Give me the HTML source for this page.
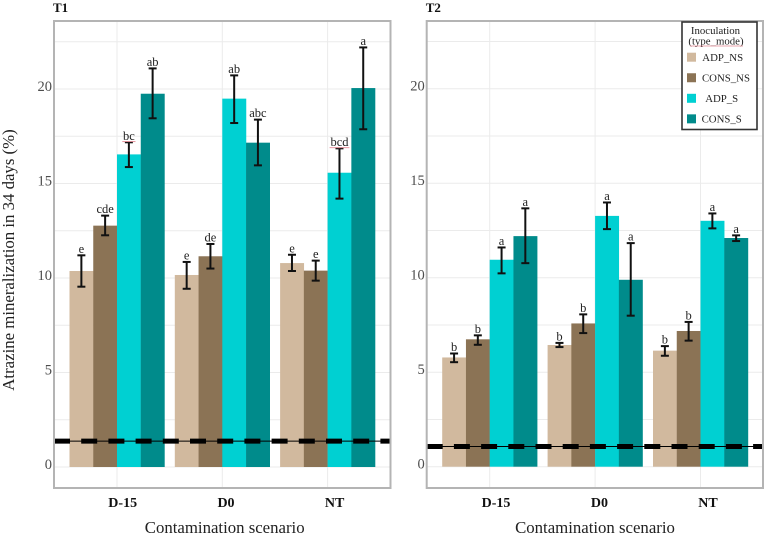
<!DOCTYPE html>
<html lang="en">
<head>
<meta charset="utf-8">
<title>Atrazine mineralization chart</title>
<style>
html,body{margin:0;padding:0;background:#fff;}
svg{display:block;font-family:"Liberation Serif",serif;filter:blur(0.3px);}
</style>
</head>
<body>
<svg id="chart" xmlns="http://www.w3.org/2000/svg" width="766" height="535" viewBox="0 0 766 535"></svg>
<script>
const categories = ['D-15', 'D0', 'NT'];
const seriesNames = ['ADP_NS', 'CONS_NS', 'ADP_S', 'CONS_S'];
const yTicks = [0, 5, 10, 15, 20];
const yMinorTicks = [2.5, 7.5, 12.5, 17.5, 22.5];

const t1Means = [[10.37, 12.77, 16.54, 19.75], [10.16, 11.15, 19.49, 17.16], [10.79, 10.39, 15.57, 20.05]];
const t1Upper = [[11.2, 13.3, 17.18, 21.09], [10.85, 11.8, 20.72, 18.38], [11.23, 10.92, 16.86, 22.2]];
const t1Lower = [[9.54, 12.26, 15.87, 18.45], [9.43, 10.5, 18.2, 15.96], [10.37, 9.86, 14.2, 17.87]];
const t1Letters = [['e', 'cde', 'bc', 'ab'], ['e', 'de', 'ab', 'abc'], ['e', 'e', 'bcd', 'a']];
const t1Baseline = 1.37;

const t2Means = [[5.78, 6.74, 10.95, 12.2], [6.44, 7.58, 13.27, 9.89], [6.14, 7.18, 13.01, 12.1]];
const t2Upper = [[5.99, 6.95, 11.6, 13.67], [6.55, 8.06, 13.98, 11.83], [6.38, 7.66, 13.4, 12.24]];
const t2Lower = [[5.53, 6.45, 10.23, 10.77], [6.33, 7.07, 12.57, 7.99], [5.87, 6.67, 12.61, 11.94]];
const t2Letters = [['b', 'b', 'a', 'a'], ['b', 'b', 'a', 'a'], ['b', 'b', 'a', 'a']];
const t2Baseline = 1.07;

const seriesColors = ['#d1b99e', '#8b7355', '#00d0d2', '#008b8b'];
const NS = 'http://www.w3.org/2000/svg';
const root = document.getElementById('chart');

function mark(parent, tag, attrs, name, text) {
  const el = document.createElementNS(NS, tag);
  for (const k in attrs) el.setAttribute(k, attrs[k]);
  
  
  if (text !== undefined) el.textContent = text;
  parent.appendChild(el);
  return el;
}

function drawPanel(cfg) {
  const g = mark(root, 'g', {}, cfg.id + '-panel');
  const y = v => cfg.zeroY - v * cfg.unit;
  const groupX = i => cfg.firstCenter + i * cfg.step;
  const x = (i, s) => groupX(i) + (s - seriesNames.length / 2) * cfg.barW;

  yMinorTicks.concat(yTicks).forEach(t => {
    mark(g, 'line', {x1: cfg.left, x2: cfg.right, y1: y(t), y2: y(t), stroke: '#ebebeb', 'stroke-width': 1}, 'gridline-y-' + t);
  });
  categories.forEach((c, i) => {
    mark(g, 'line', {x1: groupX(i), x2: groupX(i), y1: cfg.top, y2: cfg.bottom, stroke: '#ebebeb', 'stroke-width': 1}, 'gridline-x-' + c);
  });

  categories.forEach((c, i) => {
    seriesNames.forEach((s, j) => {
      mark(g, 'rect', {x: x(i, j), y: y(cfg.means[i][j]), width: cfg.barW + 0.2, height: y(0) - y(cfg.means[i][j]), fill: seriesColors[j]}, 'bar-' + c + '-' + s);
    });
  });

  mark(g, 'line', {x1: cfg.left, x2: cfg.right, y1: y(cfg.baseline), y2: y(cfg.baseline), stroke: '#000', 'stroke-width': 1}, 'baseline-thin-line');
  mark(g, 'line', {x1: cfg.left, x2: cfg.right, y1: y(cfg.baseline), y2: y(cfg.baseline), stroke: '#000', 'stroke-width': 5, 'stroke-dasharray': '16 11.2', 'stroke-dashoffset': 0}, 'baseline-dashed-line');

  categories.forEach((c, i) => {
    seriesNames.forEach((s, j) => {
      const cx = x(i, j) + cfg.barW / 2;
      const hi = y(cfg.upper[i][j]);
      const lo = y(cfg.lower[i][j]);
      const eb = mark(g, 'g', {stroke: '#111', 'stroke-width': 2, fill: 'none'}, 'error-bar-' + c + '-' + s);
      mark(eb, 'line', {x1: cx, x2: cx, y1: hi, y2: lo}, 'error-stem');
      mark(eb, 'line', {x1: cx - 4, x2: cx + 4, y1: hi, y2: hi}, 'error-cap-upper');
      mark(eb, 'line', {x1: cx - 4, x2: cx + 4, y1: lo, y2: lo}, 'error-cap-lower');
      const letter = cfg.letters[i][j];
      mark(g, 'text', {x: cx, y: hi - 2.5, 'text-anchor': 'middle', 'font-size': 12.5, fill: '#222'}, 'significance-label-' + c + '-' + s, letter);
      if (letter === 'bc' || letter === 'bcd') {
        const half = letter.length * 3.3;
        mark(g, 'line', {x1: cx - half, x2: cx + half, y1: hi - 0.7, y2: hi - 0.7, stroke: '#e58a95', 'stroke-width': 0.9}, 'spellcheck-underline');
      }
    });
  });

  mark(g, 'rect', {x: cfg.left, y: cfg.top, width: cfg.right - cfg.left, height: cfg.bottom - cfg.top, fill: 'none', stroke: '#b4b4b4', 'stroke-width': 2}, 'panel-border');

  yTicks.forEach(t => {
    mark(g, 'text', {x: cfg.left - 2, y: y(t) + 2, 'text-anchor': 'end', 'font-size': 14.5, fill: '#4d4d4d'}, 'y-tick-label-' + t, String(t));
  });
  categories.forEach((c, i) => {
    mark(g, 'text', {x: groupX(i) + cfg.labelNudge[i], y: 507, 'text-anchor': 'middle', 'font-size': 14, 'font-weight': 'bold', fill: '#111'}, 'x-tick-label-' + c, c);
  });
  mark(g, 'text', {x: cfg.titleX, y: 533, 'text-anchor': 'middle', 'font-size': 16.8, fill: '#222'}, 'x-axis-title', 'Contamination scenario');
  mark(g, 'text', {x: cfg.left - 1, y: 12, 'font-size': 13, 'font-weight': 'bold', fill: '#111'}, 'panel-title', cfg.id);
}

drawPanel({
  id: 'T1', left: 54, right: 390.5, top: 21, bottom: 488, zeroY: 467, unit: 18.9,
  firstCenter: 117, step: 105.3, barW: 23.75, labelNudge: [5.7, 3.7, 7], titleX: 224.7,
  means: t1Means, upper: t1Upper, lower: t1Lower, letters: t1Letters, baseline: t1Baseline
});
drawPanel({
  id: 'T2', left: 426.7, right: 763, top: 21, bottom: 488, zeroY: 466.7, unit: 18.9,
  firstCenter: 489.7, step: 105.4, barW: 23.75, labelNudge: [6.3, 4.3, 7.5], titleX: 595,
  means: t2Means, upper: t2Upper, lower: t2Lower, letters: t2Letters, baseline: t2Baseline
});

mark(root, 'text', {x: 0, y: 0, transform: 'translate(14,260) rotate(-90)', 'text-anchor': 'middle', 'font-size': 16.8, fill: '#222'}, 'y-axis-title', 'Atrazine mineralization in 34 days (%)');

const legend = mark(root, 'g', {}, 'legend');
mark(legend, 'rect', {x: 682, y: 22, width: 75, height: 107.5, fill: '#fff', stroke: '#333', 'stroke-width': 1.6}, 'legend-box');
mark(legend, 'text', {x: 715.5, y: 34, 'text-anchor': 'middle', 'font-size': 10.8, fill: '#222'}, 'legend-title-line-1', 'Inoculation');
mark(legend, 'text', {x: 716, y: 44.5, 'text-anchor': 'middle', 'font-size': 10.8, fill: '#222'}, 'legend-title-line-2', '(type_mode)');
mark(legend, 'line', {x1: 690, x2: 743, y1: 46, y2: 46, stroke: '#e58a95', 'stroke-width': 0.8}, 'legend-spellcheck-underline');
const legendCenters = [722.7, 726, 721.7, 721.7];
seriesNames.forEach((s, j) => {
  const top = 52.7 + j * 20.55;
  const entry = mark(legend, 'g', {}, 'legend-entry-' + s);
  mark(entry, 'rect', {x: 687, y: top, width: 9, height: 9, fill: seriesColors[j]}, 'legend-swatch-' + s);
  mark(entry, 'text', {x: legendCenters[j], y: top + 8.2, 'text-anchor': 'middle', 'font-size': 10.8, fill: '#222'}, 'legend-label-' + s, s);
});
</script>
</body>
</html>
